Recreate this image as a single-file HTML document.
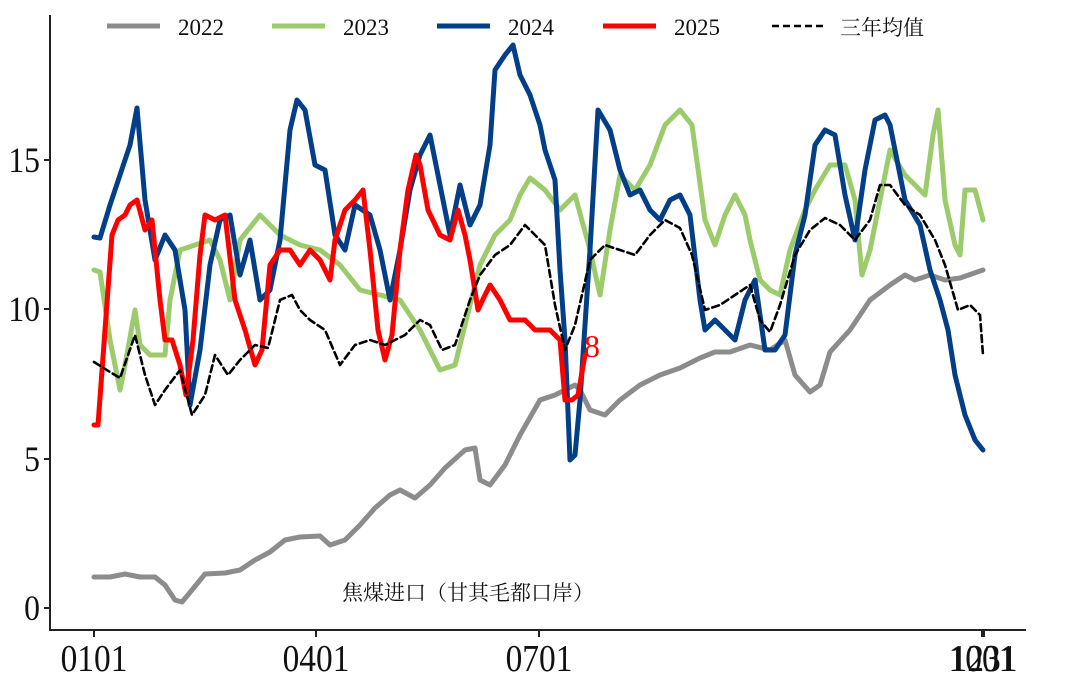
<!DOCTYPE html>
<html><head><meta charset="utf-8"><style>
html,body{margin:0;padding:0;background:#fff;width:1080px;height:675px;overflow:hidden}
svg text{font-family:"Liberation Serif","Noto Serif CJK SC",serif}
</style></head><body>
<svg width="1080" height="675" viewBox="0 0 1080 675" xmlns="http://www.w3.org/2000/svg">
<g fill="none" stroke-linejoin="round" stroke-linecap="round">
<polyline stroke="#8c8c8c" stroke-width="5" points="94,577 110,577 125,574 140,577 155,577 165,585 175,600 182,602 192,590 205,574 225,573 240,570 255,560 270,552 285,540 300,537 320,536 330,545 345,540 360,525 375,508 390,495 400,490 415,498 430,485 445,468 465,450 475,448 480,480 490,485 505,465 520,435 540,400 555,395 575,385 580,390 590,410 605,415 620,400 640,385 660,375 680,368 700,358 715,352 730,352 750,345 770,350 785,340 795,375 810,392 820,385 830,352 850,330 870,300 890,285 905,275 915,280 930,275 945,280 960,278 983,270"/>
<polyline stroke="#9bcb6b" stroke-width="5" points="94,270 100,272 110,340 120,390 125,365 135,310 140,345 150,355 165,355 170,300 180,250 195,245 210,240 220,260 230,300 240,240 260,215 280,235 300,245 320,250 340,265 360,290 380,295 400,300 420,330 440,370 455,365 465,325 480,265 495,235 510,220 520,195 530,178 545,190 560,210 575,195 590,250 600,295 610,230 620,175 635,190 650,165 665,125 680,110 692,125 705,220 715,245 725,215 735,195 745,215 750,240 760,280 770,290 780,295 790,250 805,210 815,190 830,165 845,165 855,200 862,275 870,250 880,200 890,150 905,175 915,185 925,195 933,135 938,110 945,200 955,245 960,255 965,190 975,190 983,220"/>
<polyline stroke="#023f88" stroke-width="5" points="94,237 100,238 110,205 120,175 130,145 137,108 145,200 155,260 165,235 175,250 185,310 190,405 200,350 210,265 220,220 230,215 240,275 250,240 260,300 270,290 280,240 290,130 297,100 305,110 315,165 325,170 335,235 345,250 355,205 370,215 380,250 390,300 400,250 410,190 420,155 430,135 440,185 450,235 460,185 470,225 480,205 490,145 495,70 505,55 513,45 520,75 530,95 540,125 545,150 555,180 560,270 565,340 570,460 575,455 580,400 590,250 598,110 610,130 620,170 630,195 640,190 650,210 660,220 670,200 680,195 690,215 700,300 705,330 715,320 725,330 735,340 745,300 755,280 765,350 775,350 785,335 795,255 805,215 815,145 825,130 835,135 845,195 855,240 865,170 875,120 885,115 890,125 905,200 920,225 930,270 940,300 948,330 955,375 965,415 975,440 983,450"/>
<polyline stroke="#ff0000" stroke-width="5" points="94,425 98,425 105,330 112,235 118,220 125,215 130,205 137,200 145,230 152,220 160,300 165,340 172,340 180,365 186,395 193,340 200,255 205,215 215,220 225,215 235,300 245,330 255,365 262,350 270,265 280,250 290,250 300,265 310,250 320,260 330,280 335,240 345,210 355,200 363,190 370,250 378,330 385,360 392,335 400,250 408,190 416,155 420,165 428,210 440,235 450,240 458,210 465,235 470,260 478,310 485,295 490,285 500,300 510,320 525,320 535,330 550,330 560,340 565,400 572,400 578,395 585,355"/>
<polyline stroke="#000" stroke-width="2.6" stroke-dasharray="7,4" points="94,362 110,372 120,378 135,335 145,375 155,405 165,390 180,370 192,415 205,395 215,355 228,375 240,360 255,345 268,348 280,300 292,295 300,310 310,320 325,330 340,365 355,345 370,340 385,345 395,340 405,335 420,320 430,325 442,350 455,345 470,300 480,275 495,255 510,245 525,225 535,235 545,245 555,305 565,350 575,325 590,260 605,245 620,250 635,255 650,235 665,220 680,228 692,255 705,310 720,305 735,295 750,285 760,320 770,332 780,305 795,255 810,230 825,218 840,225 855,240 870,220 880,185 890,185 905,205 920,215 935,240 945,265 958,310 970,305 980,315 983,355"/>
</g>
<text x="584" y="357" font-size="32" fill="#ff0000">8</text>
<g stroke="#222" stroke-width="2" fill="none">
<line x1="50" y1="15" x2="50" y2="631"/>
<line x1="49" y1="630" x2="1026" y2="630"/>
<line x1="44" y1="608" x2="50" y2="608"/><line x1="44" y1="459" x2="50" y2="459"/>
<line x1="44" y1="309" x2="50" y2="309"/><line x1="44" y1="160" x2="50" y2="160"/>
<line x1="94" y1="630" x2="94" y2="637"/><line x1="316" y1="630" x2="316" y2="637"/>
<line x1="539" y1="630" x2="539" y2="637"/><line x1="982" y1="630" x2="982" y2="637"/><line x1="984" y1="630" x2="984" y2="637"/>
</g>
<g font-size="36" fill="#111" text-anchor="end">
<text x="40" y="620" transform="translate(40,0) scale(0.88,1) translate(-40,0)">0</text>
<text x="40" y="471" transform="translate(40,0) scale(0.88,1) translate(-40,0)">5</text>
<text x="40" y="321" transform="translate(40,0) scale(0.88,1) translate(-40,0)">10</text>
<text x="40" y="172" transform="translate(40,0) scale(0.88,1) translate(-40,0)">15</text>
</g>
<g font-size="38" fill="#111" text-anchor="middle">
<text x="94" y="671" transform="translate(94,0) scale(0.88,1) translate(-94,0)">0101</text>
<text x="316" y="671" transform="translate(316,0) scale(0.88,1) translate(-316,0)">0401</text>
<text x="539" y="671" transform="translate(539,0) scale(0.88,1) translate(-539,0)">0701</text>
<text x="982" y="671" transform="translate(982,0) scale(0.88,1) translate(-982,0)">1001</text>
<text x="984" y="671" transform="translate(984,0) scale(0.88,1) translate(-984,0)">1231</text>
</g>
<text x="342" y="600" font-size="21" fill="#111" font-family="Noto Sans CJK SC,sans-serif">焦煤进口（甘其毛都口岸）</text>
<g stroke-width="5">
<line x1="107" y1="26" x2="160" y2="26" stroke="#8c8c8c"/>
<line x1="272" y1="26" x2="325" y2="26" stroke="#9bcb6b"/>
<line x1="437" y1="26" x2="490" y2="26" stroke="#023f88"/>
<line x1="603" y1="26" x2="656" y2="26" stroke="#ff0000"/>
<line x1="772" y1="26" x2="825" y2="26" stroke="#000" stroke-width="2.6" stroke-dasharray="7,4"/>
</g>
<g font-size="23" fill="#111">
<text x="178" y="35">2022</text>
<text x="343" y="35">2023</text>
<text x="508" y="35">2024</text>
<text x="674" y="35">2025</text>
<text x="840" y="35" font-family="Noto Sans CJK SC,sans-serif" font-size="21">三年均值</text>
</g>
</svg>
</body></html>
